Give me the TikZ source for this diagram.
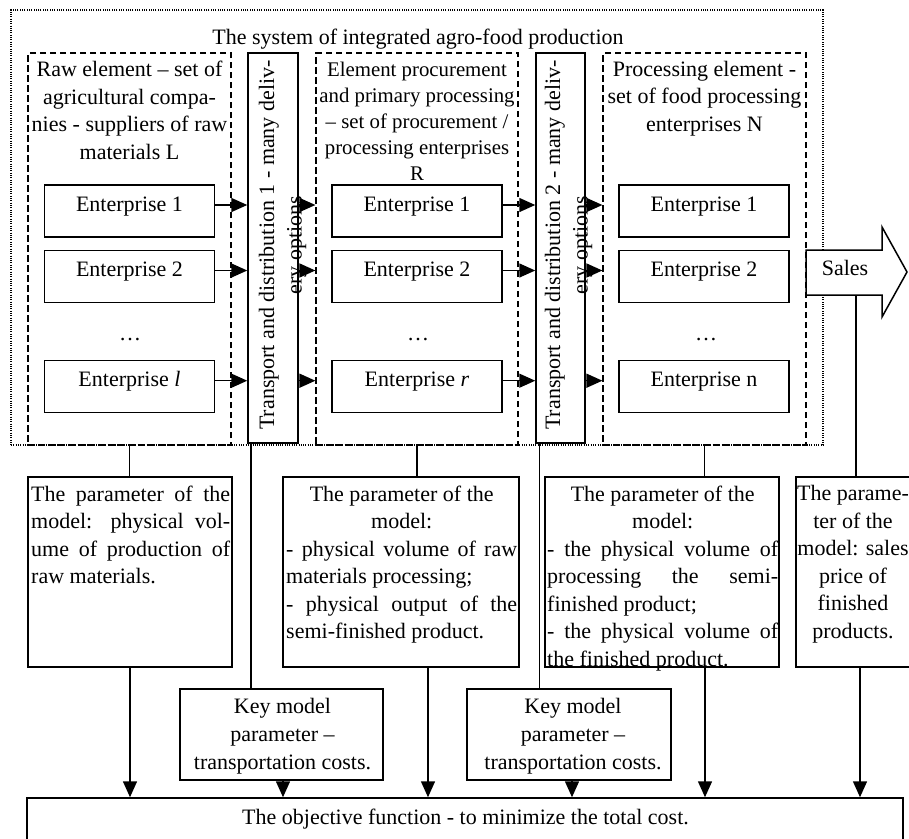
\documentclass[tikz,border=0pt]{standalone}
\usepackage{fontspec}
\setmainfont{Liberation Serif}
\usetikzlibrary{arrows.meta,calc}
\tolerance=10000
\hbadness=10000
\setlength{\parindent}{0pt}
\begin{document}
\begin{tikzpicture}[x=1pt,y=-1pt,
  basefont/.style={font=\fontsize{22}{27.5}\selectfont},
  box/.style={draw,line width=1.5pt,fill=white,inner sep=0pt},
  dbox/.style={draw,line width=1.2pt,dash pattern=on 6.5pt off 3.5pt,inner sep=0pt},
  sysbox/.style={draw,line width=1.1pt,dash pattern=on 1pt off 1.3pt,inner sep=0pt},
  ent/.style={box,basefont,minimum width=170pt,minimum height=52pt,text height=26pt,text depth=26pt},
  txt/.style={basefont,inner sep=0pt},
  conn/.style={line width=1.5pt},
  arr/.style={line width=1.5pt,-{Triangle[length=16pt,width=14pt]}},
]
\useasboundingbox (0,0) rectangle (909,838);
\fill[white] (0,0) rectangle (909,838);
\clip (0,0) rectangle (909,838);

% system frame
\node[sysbox,minimum width=812pt,minimum height=435pt] (sys) at (417,227.5) {};
\node[txt,anchor=base] (title) at (418,44) {The system of integrated agro-food production};

% element frames
\node[dbox,minimum width=203pt,minimum height=392pt] (d1) at (129.5,249) {};
\node[dbox,minimum width=202pt,minimum height=392pt] (d2) at (417,249) {};
\node[dbox,minimum width=203pt,minimum height=392pt] (d3) at (704.5,249) {};

% transport boxes
\node[box,minimum width=50pt,minimum height=390pt] (t1) at (273,248) {};
\node[box,minimum width=49pt,minimum height=390pt] (t2) at (560.5,248) {};
\node[txt,rotate=90,align=center] (tt1) at (282.5,245) {Transport and distribution 1 - many deliv-\\ery options};
\node[txt,rotate=90,align=center] (tt2) at (568.5,245) {Transport and distribution 2 - many deliv-\\ery options};

% headings
\node[txt,align=center,anchor=north] (h1) at (129.5,61) {Raw element – set of\\agricultural compa-\\nies - suppliers of raw\\materials L};
\node[txt,align=center,anchor=north,font=\fontsize{20.8}{26}\selectfont] (h2) at (417,61.5) {Element procurement\\and primary processing\\– set of procurement /\\processing enterprises\\R};
\node[txt,align=center,anchor=north] (h3) at (704.5,61) {Processing element -\\set of food processing\\enterprises N};

% enterprises
\node[ent] (e11) at (129.5,211) {Enterprise 1};
\node[ent] (e12) at (129.5,276.5) {Enterprise 2};
\node[txt,anchor=base] (dots1) at (130,340) {…};
\node[ent] (e13) at (129.5,386.7) {Enterprise \textit{l}};

\node[ent] (e21) at (417,211) {Enterprise 1};
\node[ent] (e22) at (417,276.5) {Enterprise 2};
\node[txt,anchor=base] (dots2) at (418,340) {…};
\node[ent] (e23) at (417,386.7) {Enterprise \textit{r}};

\node[ent] (e31) at (704,211) {Enterprise 1};
\node[ent] (e32) at (704,276.5) {Enterprise 2};
\node[txt,anchor=base] (dots3) at (706,340) {…};
\node[ent] (e33) at (704,386.7) {Enterprise n};

% sales arrow
\draw[line width=1.5pt,fill=white] (806,250) -- (882,250) -- (882,227) -- (907,272) -- (882,317) -- (882,295) -- (806,295) -- cycle;
\node[txt,anchor=base] (sales) at (845,275) {Sales};
\coordinate (sb) at (856,295);

% parameter boxes
\node[box,minimum width=204pt,minimum height=190pt] (p1) at (130,572) {};
\node[box,minimum width=236pt,minimum height=190pt] (p2) at (401,572) {};
\node[box,minimum width=234pt,minimum height=190pt] (p3) at (662,572) {};
\node[box,minimum width=116pt,minimum height=190pt] (p4) at (854,572) {};

\node[txt,text width=199pt,align=justify,anchor=north west] (pt1) at (31,485.4)
 {The parameter of the\linebreak model: physical vol-\linebreak ume of production of\linebreak raw materials.};
\node[txt,text width=231pt,align=justify,anchor=north west] (pt2) at (286,485.4)
 {{\centering The parameter of the\\model:\par}- physical volume of raw\linebreak materials processing;\par- physical output of the\linebreak semi-finished product.};
\node[txt,text width=231pt,align=justify,anchor=north west] (pt3) at (547,485.4)
 {{\centering The parameter of the\\model:\par}- the physical volume of\linebreak processing the semi-\linebreak finished product;\par- the physical volume of\linebreak the finished product.};
\node[txt,align=center,anchor=north] (pt4) at (853,485.4) {The parame-\\ter of the\\model: sales\\price of\\finished\\products.};

% key boxes
\node[box,minimum width=203pt,minimum height=91pt] (k1) at (281.5,734.5) {};
\node[box,minimum width=204pt,minimum height=91pt] (k2) at (569,734.5) {};
\node[txt,align=center,anchor=north,font=\fontsize{22}{28}\selectfont] (kt1) at (282.5,698.2) {Key model\\parameter –\\transportation costs.};
\node[txt,align=center,anchor=north,font=\fontsize{22}{28}\selectfont] (kt2) at (573,698.2) {Key model\\parameter –\\transportation costs.};

% objective
\node[box,minimum width=876pt,minimum height=62pt] (obj) at (465,829) {};
\node[txt,anchor=base] (objt) at (465.5,824) {The objective function - to minimize the total cost.};

% connectors
\draw[conn] (d1.south) -- (d1.south |- p1.north);
\coordinate (t1b) at ($(t1.south west)+(3.5,0)$);
\draw[conn] (t1b) -- (t1b |- k1.north);
\draw[conn] (d2.south) -- (d2.south |- p2.north);
\coordinate (t2b) at ($(t2.south west)+(4,0)$);
\draw[conn] (t2b) -- (t2b |- k2.north);
\draw[conn] (d3.south) -- (d3.south |- p3.north);
\draw[conn] (sb) -- (sb |- p4.north);

\coordinate (p2b) at ($(p2.south)+(27,0)$);
\coordinate (k1b) at ($(k1.south)+(1.5,0)$);
\coordinate (k2b) at ($(k2.south)+(3,0)$);
\coordinate (p3b) at ($(p3.south)+(43,0)$);
\coordinate (p4b) at ($(p4.south)+(6,0)$);
\draw[arr] (p1.south) -- (p1.south |- obj.north);
\draw[arr] (k1b) -- (k1b |- obj.north);
\draw[arr] (p2b) -- (p2b |- obj.north);
\draw[arr] (k2b) -- (k2b |- obj.north);
\draw[arr] (p3b) -- (p3b |- obj.north);
\draw[arr] (p4b) -- (p4b |- obj.north);

% flows
\foreach \r in {1,2,3} {
  \coordinate (a\r) at ($(e1\r.east)+(0,-6)$);
  \draw[arr] (a\r) -- (a\r -| t1.west);
  \draw[arr] (a\r -| t1.east) -- (a\r -| d2.west);
  \coordinate (b\r) at ($(e2\r.east)+(0,-6)$);
  \draw[arr] (b\r) -- (b\r -| t2.west);
  \draw[arr] (b\r -| t2.east) -- (b\r -| d3.west);
}
\end{tikzpicture}
\end{document}
